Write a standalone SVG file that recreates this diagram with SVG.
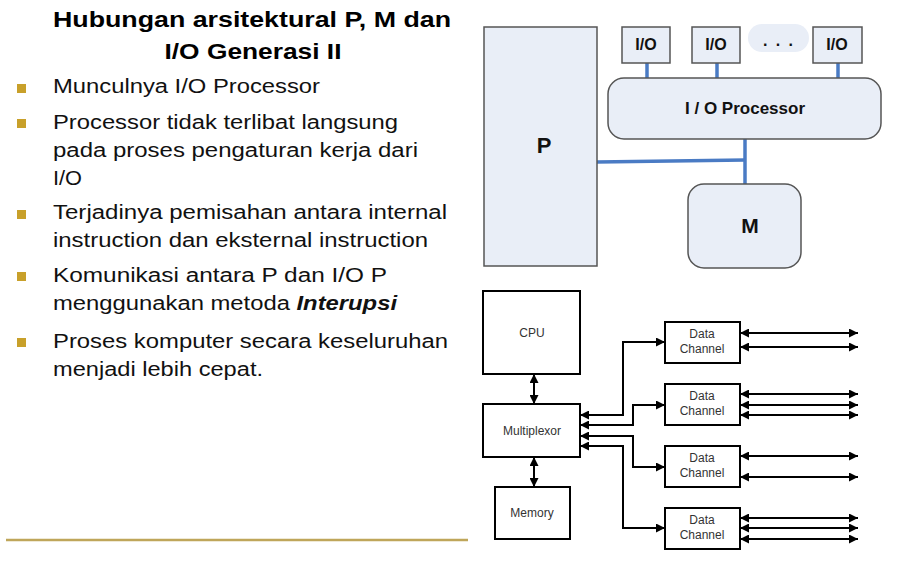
<svg xmlns="http://www.w3.org/2000/svg" width="897" height="561" viewBox="0 0 897 561">
<style>
.title{font-family:"Liberation Sans",Arial,sans-serif;font-weight:bold;font-size:22px;fill:#000;text-anchor:middle}
.body{font-family:"Liberation Sans",Arial,sans-serif;font-size:20px;fill:#111}
.bul{fill:#c8a02a}
.tbox{fill:#e9eef7;stroke:#555;stroke-width:1.5}
.tlab{font-family:"Liberation Sans",Arial,sans-serif;font-weight:bold;fill:#111;text-anchor:middle}
.blue{stroke:#4a7bc4;stroke-width:3.5;fill:none}
.bbox{fill:#fff;stroke:#000;stroke-width:2}
.blab{font-family:"Liberation Sans",Arial,sans-serif;font-size:12px;fill:#333;text-anchor:middle}
.arr{stroke:#000;stroke-width:2;fill:none;marker-start:url(#ah);marker-end:url(#ah)}
</style>
<defs>
<marker id="ah" viewBox="0 0 10 10" refX="10" refY="5" markerWidth="4.5" markerHeight="4.5" orient="auto-start-reverse">
<path d="M0,0 L10,5 L0,10 z" fill="#000"/>
</marker>
</defs>
<rect width="897" height="561" fill="#fff"/>

<g id="text">
<text class="title" x="252" y="27" textLength="398" lengthAdjust="spacingAndGlyphs">Hubungan arsitektural P, M dan</text>
<text class="title" x="253" y="59" textLength="177" lengthAdjust="spacingAndGlyphs">I/O Generasi II</text>
<rect class="bul" x="17" y="84" width="9" height="9"/>
<text class="body" x="53" y="93" textLength="267" lengthAdjust="spacingAndGlyphs">Munculnya I/O Processor</text>
<rect class="bul" x="17" y="119" width="9" height="9"/>
<text class="body" x="53" y="129" textLength="345" lengthAdjust="spacingAndGlyphs">Processor tidak terlibat langsung</text>
<text class="body" x="53" y="157" textLength="365" lengthAdjust="spacingAndGlyphs">pada proses pengaturan kerja dari</text>
<text class="body" x="53" y="185" textLength="29" lengthAdjust="spacingAndGlyphs">I/O</text>
<rect class="bul" x="17" y="210" width="9" height="9"/>
<text class="body" x="53" y="219" textLength="394" lengthAdjust="spacingAndGlyphs">Terjadinya pemisahan antara internal</text>
<text class="body" x="53" y="247" textLength="375" lengthAdjust="spacingAndGlyphs">instruction dan eksternal instruction</text>
<rect class="bul" x="17" y="272" width="9" height="9"/>
<text class="body" x="53" y="282" textLength="334" lengthAdjust="spacingAndGlyphs">Komunikasi antara P dan I/O P</text>
<text class="body" x="53" y="310" textLength="344" lengthAdjust="spacingAndGlyphs">menggunakan metoda <tspan font-weight="bold" font-style="italic">Interupsi</tspan></text>
<rect class="bul" x="17" y="338" width="9" height="9"/>
<text class="body" x="53" y="348" textLength="395" lengthAdjust="spacingAndGlyphs">Proses komputer secara keseluruhan</text>
<text class="body" x="53" y="376" textLength="210" lengthAdjust="spacingAndGlyphs">menjadi lebih cepat.</text>
<line x1="6" y1="540" x2="468" y2="540" stroke="#bfa65a" stroke-width="2.5"/>
</g>

<g id="connectors">
<line class="blue" x1="647" y1="63" x2="647" y2="78"/>
<line class="blue" x1="717" y1="63" x2="717" y2="78"/>
<line class="blue" x1="838" y1="63" x2="838" y2="78"/>
<line class="blue" x1="745" y1="139" x2="745" y2="184"/>
<line class="blue" x1="597" y1="162" x2="745" y2="160"/>

<line class="arr" x1="534" y1="374" x2="534" y2="404"/>
<line class="arr" x1="534" y1="457" x2="534" y2="487"/>
<path class="arr" d="M665,342 H623 V415 H580"/>
<path class="arr" d="M665,405 H633 V425 H580"/>
<path class="arr" d="M665,467 H633 V436 H580"/>
<path class="arr" d="M665,528 H623 V446 H580"/>

<line class="arr" x1="740" y1="333" x2="858" y2="333"/>
<line class="arr" x1="740" y1="347" x2="858" y2="347"/>
<line class="arr" x1="740" y1="394" x2="858" y2="394"/>
<line class="arr" x1="740" y1="405" x2="858" y2="405"/>
<line class="arr" x1="740" y1="415" x2="858" y2="415"/>
<line class="arr" x1="740" y1="456" x2="858" y2="456"/>
<line class="arr" x1="740" y1="477" x2="858" y2="477"/>
<line class="arr" x1="740" y1="518" x2="858" y2="518"/>
<line class="arr" x1="740" y1="528" x2="858" y2="528"/>
<line class="arr" x1="740" y1="539" x2="858" y2="539"/>
</g>

<g id="P">
<rect class="tbox" x="484" y="27" width="113" height="239"/>
<text class="tlab" x="544" y="153" font-size="22">P</text>
</g>
<g id="io1">
<rect class="tbox" x="622" y="27" width="48" height="36"/>
<text class="tlab" x="646" y="50" font-size="16">I/O</text>
</g>
<g id="io2">
<rect class="tbox" x="692" y="27" width="48" height="36"/>
<text class="tlab" x="716" y="50" font-size="16">I/O</text>
</g>
<g id="dots">
<rect x="748" y="24" width="61" height="28" rx="14" fill="#e9eef7"/>
<text class="tlab" x="778" y="46" font-size="16" textLength="30" lengthAdjust="spacing">. . .</text>
</g>
<g id="io3">
<rect class="tbox" x="813" y="27" width="49" height="36"/>
<text class="tlab" x="837" y="50" font-size="16">I/O</text>
</g>
<g id="iop">
<rect class="tbox" x="608" y="78" width="273" height="61" rx="16"/>
<text class="tlab" x="745" y="114" font-size="17">I / O Processor</text>
</g>
<g id="M">
<rect class="tbox" x="688" y="184" width="113" height="84" rx="16"/>
<text class="tlab" x="750" y="233" font-size="21">M</text>
</g>

<g id="cpu">
<rect class="bbox" x="483" y="291" width="97" height="83"/>
<text class="blab" x="532" y="337">CPU</text>
</g>
<g id="mux">
<rect class="bbox" x="483" y="404" width="97" height="53"/>
<text class="blab" x="532" y="435">Multiplexor</text>
</g>
<g id="memory">
<rect class="bbox" x="495" y="487" width="75" height="52"/>
<text class="blab" x="532" y="517">Memory</text>
</g>
<g id="dc1">
<rect class="bbox" x="665" y="322" width="75" height="41"/>
<text class="blab" x="702" y="338">Data</text>
<text class="blab" x="702" y="353">Channel</text>
</g>
<g id="dc2">
<rect class="bbox" x="665" y="384" width="75" height="41"/>
<text class="blab" x="702" y="400">Data</text>
<text class="blab" x="702" y="415">Channel</text>
</g>
<g id="dc3">
<rect class="bbox" x="665" y="446" width="75" height="41"/>
<text class="blab" x="702" y="462">Data</text>
<text class="blab" x="702" y="477">Channel</text>
</g>
<g id="dc4">
<rect class="bbox" x="665" y="508" width="75" height="41"/>
<text class="blab" x="702" y="524">Data</text>
<text class="blab" x="702" y="539">Channel</text>
</g>
</svg>
